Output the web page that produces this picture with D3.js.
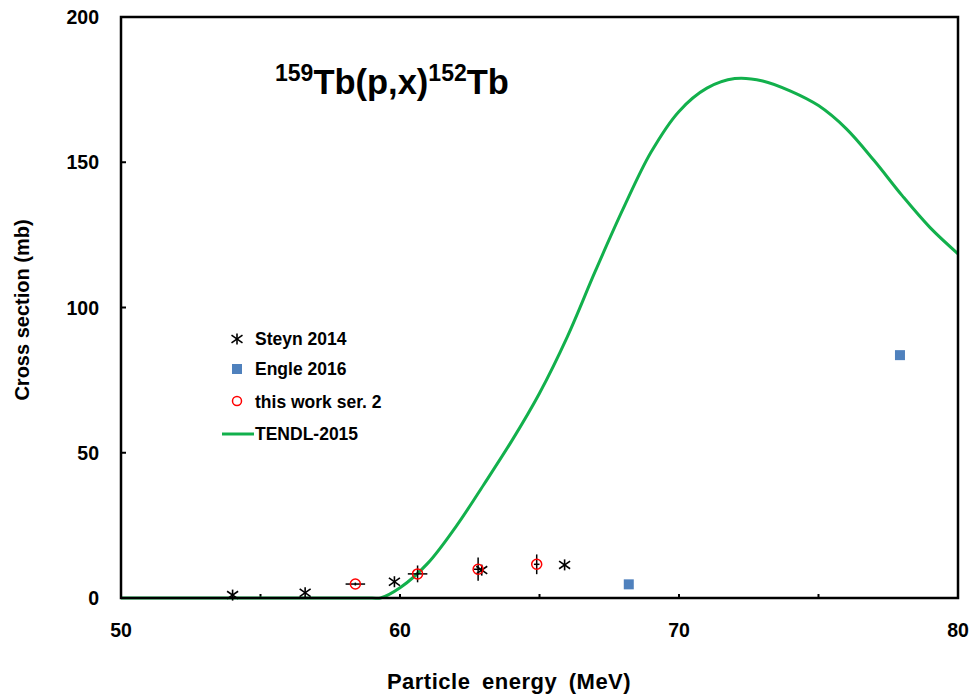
<!DOCTYPE html>
<html>
<head>
<meta charset="utf-8">
<script src="https://cdn.jsdelivr.net/npm/d3@7"></script>
<style>
  body { margin: 0; background: #fff; }
  text { font-family: "Liberation Sans", Arial, sans-serif; font-weight: bold; }
</style>
</head>
<body>
<div id="chart"></div>
<script>
// Steyn 2014 (asterisks)
const steynE = [54.0, 56.6, 59.8, 62.93, 65.9];
const steynXS = [1.0, 1.8, 5.6, 9.6, 11.4];

// Engle 2016 (blue squares)
const engleE = [68.2, 77.92];
const engleXS = [4.7, 83.6];

// this work ser. 2 (red circles) with error bars
const workE = [58.4, 60.63, 62.8, 64.9];
const workXS = [4.8, 8.3, 9.9, 11.6];
const workDE = [0.35, 0.35, 0.15, 0.1];
const workDXS = [0.5, 2.9, 4.0, 3.4];

// TENDL-2015 curve
const tendlE = [50, 55, 59, 59.3, 60, 61, 62, 63, 64, 65, 66, 67, 68, 69, 70, 71, 72, 73, 74, 75, 76, 77, 78, 79, 80];
const tendlXS = [0, 0, 0, 0, 3.5, 12, 24.5, 39, 54, 70.5, 90, 112.5, 134, 153.5, 167.5, 175.5, 178.8, 178, 174.5, 169.5, 161.5, 150.5, 138.5, 127.5, 118.5];

const xTicks = [50, 60, 70, 80];
const xMinor = [55, 60, 65, 70, 75];
const yTicks = [0, 50, 100, 150, 200];

const W = 972, H = 698;
const margin = {top: 17, right: 14, bottom: 100, left: 121},
    width = W - margin.left - margin.right,
    height = H - margin.top - margin.bottom;

const svg = d3.select("#chart").append("svg")
    .attr("width", W).attr("height", H)
    .append("g")
    .attr("transform", `translate(${margin.left},${margin.top})`);

const x = d3.scaleLinear().domain([50, 80]).range([0, width]);
const y = d3.scaleLinear().domain([0, 200]).range([height, 0]);

const green = "#12b04c", blue = "#4f81bd", red = "#ff0000";

// inner ticks
svg.append("g").selectAll("line").data(xMinor).join("line")
    .attr("x1", d => x(d)).attr("x2", d => x(d))
    .attr("y1", height).attr("y2", height - 4)
    .attr("stroke", "black").attr("stroke-width", 2);
svg.append("g").selectAll("line").data(yTicks.slice(1, -1)).join("line")
    .attr("x1", 0).attr("x2", 5)
    .attr("y1", d => y(d)).attr("y2", d => y(d))
    .attr("stroke", "black").attr("stroke-width", 2);

// tick labels
svg.append("g").selectAll("text").data(xTicks).join("text")
    .attr("x", d => x(d)).attr("y", height + 39)
    .attr("text-anchor", "middle").style("font-size", "19.5px")
    .text(d => d);
svg.append("g").selectAll("text").data(yTicks).join("text")
    .attr("x", -22).attr("y", d => y(d) + 7)
    .attr("text-anchor", "end").style("font-size", "19.5px")
    .text(d => d);

// TENDL line
svg.append("path")
    .datum(tendlE.map((e, i) => [e, tendlXS[i]]))
    .attr("fill", "none").attr("stroke", green).attr("stroke-width", 3)
    .attr("d", d3.line().x(d => x(d[0])).y(d => y(d[1])).curve(d3.curveCatmullRom.alpha(0.5)));

// frame
svg.append("rect")
    .attr("width", width).attr("height", height)
    .attr("fill", "none").attr("stroke", "black").attr("stroke-width", 2.5);

// error bars for this work
const eb = svg.append("g").attr("stroke", "black").attr("stroke-width", 1.5);
workE.forEach((e, i) => {
    eb.append("line")
        .attr("x1", x(e - workDE[i])).attr("x2", x(e + workDE[i]))
        .attr("y1", y(workXS[i])).attr("y2", y(workXS[i]));
    eb.append("line")
        .attr("x1", x(e)).attr("x2", x(e))
        .attr("y1", y(workXS[i] - workDXS[i])).attr("y2", y(workXS[i] + workDXS[i]));
});

function star(g, cx, cy, s) {
    const p = g.append("g").attr("stroke", "black").attr("stroke-width", 1.6);
    p.append("line").attr("x1", cx).attr("x2", cx).attr("y1", cy - s).attr("y2", cy + s);
    p.append("line").attr("x1", cx - s).attr("x2", cx + s).attr("y1", cy - s * 0.7).attr("y2", cy + s * 0.7);
    p.append("line").attr("x1", cx - s).attr("x2", cx + s).attr("y1", cy + s * 0.7).attr("y2", cy - s * 0.7);
}

// Steyn
const sg = svg.append("g");
steynE.forEach((e, i) => star(sg, x(e), y(steynXS[i]), 5.5));

// Engle
svg.append("g").selectAll("rect").data(engleE).join("rect")
    .attr("x", d => x(d) - 5).attr("y", (d, i) => y(engleXS[i]) - 5)
    .attr("width", 10).attr("height", 10)
    .attr("fill", blue);

// this work
svg.append("g").selectAll("circle").data(workE).join("circle")
    .attr("cx", d => x(d)).attr("cy", (d, i) => y(workXS[i]))
    .attr("r", 5).attr("fill", "none")
    .attr("stroke", red).attr("stroke-width", 1.5);

// legend
const lg = svg.append("g").attr("transform", `translate(${-margin.left},${-margin.top})`);
star(lg, 237, 339, 5.5);
lg.append("rect").attr("x", 232).attr("y", 364).attr("width", 10).attr("height", 10).attr("fill", blue);
lg.append("circle").attr("cx", 237).attr("cy", 401).attr("r", 4.5)
    .attr("fill", "none").attr("stroke", red).attr("stroke-width", 1.5);
lg.append("line").attr("x1", 222).attr("x2", 254).attr("y1", 434).attr("y2", 434)
    .attr("stroke", green).attr("stroke-width", 3);
const labels = ["Steyn 2014", "Engle 2016", "this work ser. 2", "TENDL-2015"];
const ly = [339, 369, 402, 434];
lg.selectAll(".lt").data(labels).join("text")
    .attr("x", 255).attr("y", (d, i) => ly[i] + 6)
    .style("font-size", "17.5px").text(d => d);

// title
const t = lg.append("text").attr("x", 275).attr("y", 94).style("font-size", "34.5px");
t.append("tspan").attr("dy", -13).style("font-size", "23px").text("159");
t.append("tspan").attr("dy", 13).text("Tb(p,x)");
t.append("tspan").attr("dy", -13).style("font-size", "23px").text("152");
t.append("tspan").attr("dy", 13).text("Tb");

// axis titles
lg.append("text").attr("x", 509).attr("y", 689).attr("text-anchor", "middle")
    .style("font-size", "22px").style("word-spacing", "5px").style("letter-spacing", "0.5px")
    .text("Particle energy (MeV)");
lg.append("text").attr("transform", "translate(29,310) rotate(-90)")
    .attr("text-anchor", "middle").style("font-size", "20px").text("Cross section (mb)");
</script>
</body>
</html>
